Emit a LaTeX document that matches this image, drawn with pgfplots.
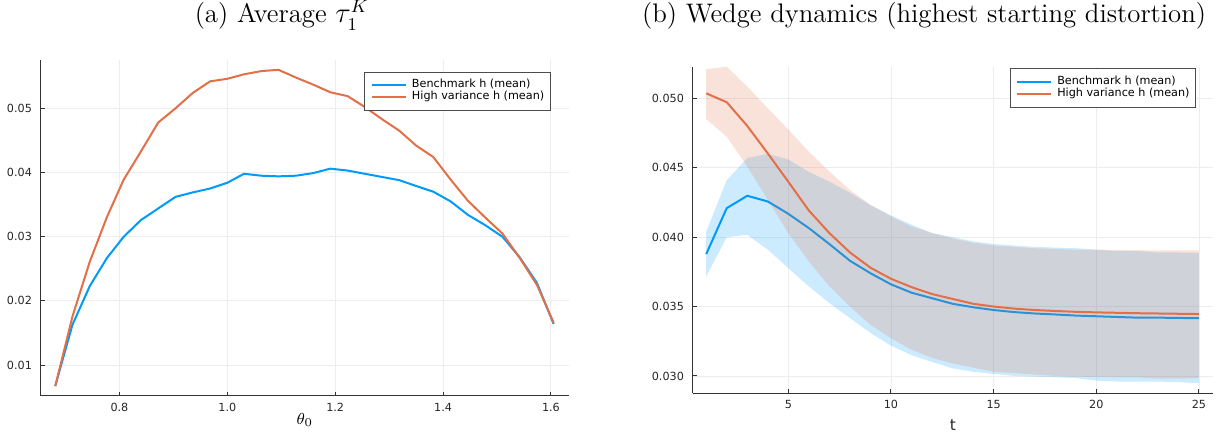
\documentclass[border=0pt]{standalone}
\usepackage{fontspec}
\setsansfont{DejaVu Sans}
\usepackage{pgfplots}
\usepackage{pgfplotstable}
\pgfplotsset{compat=1.18}
\definecolor{jblue}{RGB}{0,154,250}
\definecolor{jorange}{RGB}{227,111,71}

\pgfplotstableread{
theta bench high
0.681 0.00675 0.0067
0.713 0.0163 0.0176
0.745 0.0223 0.0261
0.777 0.0267 0.0331
0.808 0.0300 0.0389
0.840 0.0326 0.0433
0.872 0.0344 0.0478
0.904 0.0362 0.0500
0.936 0.0369 0.0524
0.968 0.0375 0.0542
1.000 0.0384 0.0546
1.031 0.0398 0.0553
1.063 0.0395 0.0558
1.095 0.0394 0.0560
1.127 0.0395 0.0548
1.159 0.0399 0.0537
1.191 0.0406 0.0525
1.223 0.0403 0.0519
1.255 0.0398 0.0502
1.287 0.0393 0.0483
1.319 0.0388 0.0465
1.350 0.0379 0.0442
1.382 0.0370 0.0424
1.414 0.0355 0.0389
1.446 0.0334 0.0356
1.478 0.0318 0.0330
1.510 0.0300 0.0305
1.542 0.0268 0.0267
1.574 0.0228 0.0225
1.605 0.0164 0.0166
}\tauK

% means
\pgfplotstableread{
t bm hm
1 0.03878 0.05036
2 0.04209 0.04972
3 0.04298 0.04801
4 0.04257 0.04603
5 0.04168 0.04399
6 0.04065 0.04192
7 0.0395 0.04029
8 0.0383 0.0389
9 0.0374 0.0378
10 0.0366 0.0370
11 0.0360 0.0364
12 0.0356 0.0359
13 0.0352 0.03555
14 0.03495 0.0352
15 0.03475 0.0350
16 0.0346 0.03485
17 0.0345 0.03475
18 0.03443 0.03468
19 0.03435 0.03462
20 0.0343 0.03458
21 0.03425 0.03455
22 0.0342 0.03452
23 0.0342 0.0345
24 0.03418 0.03448
25 0.03416 0.03446
}\wedgemean

% benchmark band: upper edge t=1..25, then lower edge t=25..1
\pgfplotstableread{
t y
1 0.0404
2 0.0441
3 0.0457
4 0.0460
5 0.0456
6 0.0447
7 0.0440
8 0.0432
9 0.0423
10 0.04156
11 0.0409
12 0.0403
13 0.0400
14 0.0397
15 0.0395
16 0.0394
17 0.0393
18 0.03925
19 0.0392
20 0.0391
21 0.0390
22 0.0390
23 0.0389
24 0.0389
25 0.03885
25 0.02948
24 0.02955
23 0.0296
22 0.0296
21 0.0296
20 0.02966
19 0.02985
18 0.0299
17 0.02995
16 0.0300
15 0.03015
14 0.0303
13 0.03055
12 0.0310
11 0.0315
10 0.03218
9 0.0331
8 0.03417
7 0.03525
6 0.03645
5 0.03777
4 0.0391
3 0.04017
2 0.0400
1 0.03717
}\bandB

% high-variance band: upper edge t=1..25, then lower edge t=25..1
\pgfplotstableread{
t y
1 0.05211
2 0.05228
3 0.05084
4 0.04928
5 0.04776
6 0.04615
7 0.04473
8 0.0434
9 0.04233
10 0.04149
11 0.04077
12 0.04029
13 0.0399
14 0.0396
15 0.0394
16 0.0393
17 0.0392
18 0.03915
19 0.0391
20 0.0391
21 0.03908
22 0.03906
23 0.03905
24 0.03904
25 0.03904
25 0.02985
24 0.0298
23 0.0298
22 0.0299
21 0.0299
20 0.02993
19 0.02995
18 0.0300
17 0.0301
16 0.0302
15 0.0303
14 0.0306
13 0.0309
12 0.0313
11 0.03189
10 0.03272
9 0.03368
8 0.0350
7 0.03645
6 0.03825
5 0.04029
4 0.04269
3 0.04508
2 0.04724
1 0.04851
}\bandH

\pgfplotsset{
 jstyle/.style={
  scale only axis,
  axis x line*=bottom,
  axis y line*=left,
  axis line style={-, black!80, line width=0.55pt},
  tick align=inside,
  major tick length=2pt,
  tick style={black!80, line width=0.5pt},
  grid=major,
  grid style={black!7, line width=0.45pt},
  scaled ticks=false,
  tick label style={font=\sffamily\fontsize{5.6}{6}\selectfont, text=black!85, inner sep=0pt},
  yticklabel style={anchor=east, xshift=-4.2pt},
  xticklabel style={anchor=base, yshift=-7.7pt},
  title style={font=\fontsize{13.4}{15}\selectfont, anchor=base west, inner sep=0pt},
  legend style={font=\sffamily\fontsize{5.6}{6}\selectfont, draw=black!70, line width=0.5pt,
    anchor=north east, inner xsep=3pt, inner ysep=3.6pt, column sep=2.5pt,
    nodes={inner sep=0pt, text height=4.2pt, text depth=1.8pt}, row sep=0pt},
  legend cell align=left,
 }
}

\begin{document}
\begin{tikzpicture}
\path[use as bounding box] (0,0) rectangle (609.5pt,216.5pt);

\begin{axis}[jstyle,
  at={(20.35pt,18.65pt)}, anchor=south west,
  width=264pt, height=167.85pt,
  xmin=0.654, xmax=1.633, ymin=0.00522, ymax=0.05753,
  xtick={0.8,1.0,1.2,1.4,1.6}, xticklabels={0.8,1.0,1.2,1.4,1.6},
  ytick={0.01,0.02,0.03,0.04,0.05}, yticklabels={0.01,0.02,0.03,0.04,0.05},
  title={(a) Average $\tau_1^K$},
  title style={at={(axis description cs:0.291,1.0745)}},
  xlabel={$\theta_0$},
  xlabel style={at={(axis description cs:0.5,-0.0843)}, anchor=base, inner sep=0pt, font=\fontsize{8}{9}\selectfont},
  legend style={at={(axis description cs:0.9659,0.9651)}},
]
\addplot[jblue, line width=1pt] table[x=theta,y=bench]{\tauK};
\addlegendentry{Benchmark h (mean)}
\addplot[jorange, line width=1pt] table[x=theta,y=high]{\tauK};
\addlegendentry{High variance h (mean)}
\end{axis}

\begin{axis}[jstyle,
  at={(346.35pt,19.85pt)}, anchor=south west,
  width=260.3pt, height=163.3pt,
  xmin=0.342, xmax=25.70, ymin=0.02875, ymax=0.05228,
  xtick={5,10,15,20,25}, xticklabels={5,10,15,20,25},
  ytick={0.030,0.035,0.040,0.045,0.050}, yticklabels={0.030,0.035,0.040,0.045,0.050},
  title={(b) Wedge dynamics (highest starting distortion)},
  title style={at={(axis description cs:-0.098,1.0971)}},
  xlabel={t},
  xlabel style={at={(axis description cs:0.5,-0.1124)}, anchor=base, inner sep=0pt, font=\sffamily\fontsize{7.7}{9}\selectfont, text=black!85},
  legend style={at={(axis description cs:0.9668,0.9951)}},
]
\addplot[fill=jblue, fill opacity=0.2, draw=none, forget plot] table[x=t,y=y]{\bandB} -- cycle;
\addplot[jblue, line width=1pt] table[x=t,y=bm]{\wedgemean};
\addlegendentry{Benchmark h (mean)}
\addplot[fill=jorange, fill opacity=0.2, draw=none, forget plot] table[x=t,y=y]{\bandH} -- cycle;
\addplot[jorange, line width=1pt] table[x=t,y=hm]{\wedgemean};
\addlegendentry{High variance h (mean)}
\end{axis}
\end{tikzpicture}
\end{document}
